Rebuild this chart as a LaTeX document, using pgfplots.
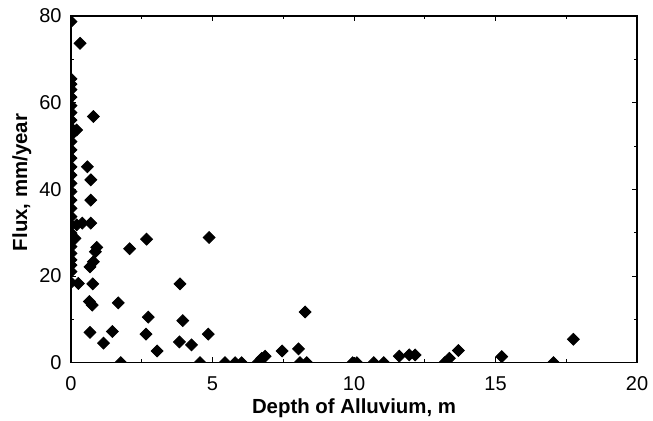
\documentclass[border=0pt]{standalone}
\usepackage{pgfplots}
\pgfplotsset{compat=1.18}
\usepackage{fontspec}
\setmainfont{Liberation Sans}

% Flux against depth of alluvium (x in m, y in mm/year)
\pgfplotstableread{
x y
0 78.7
0 65.5
0 64.3
0 63.0
0 61.3
0 59.3
0 57.7
0 56.0
0 54.2
0 52.5
0 51.0
0 49.1
0 47.2
0 45.2
0 43.3
0 41.4
0 39.5
0 37.5
0 35.6
0 33.7
0 31.8
0 29.9
0 27.9
0 26.8
0 25.2
0 23.7
0 22.5
0 21.0
0 18.5
0.32 73.7
0.79 56.8
0.20 53.7
0.58 45.2
0.70 42.2
0.70 37.5
0.20 31.8
0.40 32.2
0.70 32.2
0.14 28.7
0.91 26.6
0.86 25.6
0.79 23.3
0.67 22.1
0.26 18.3
0.77 18.2
0.65 14.1
0.75 13.3
0.67 7.0
1.15 4.5
1.46 7.2
1.67 13.8
1.76 0
2.07 26.3
2.67 28.5
2.73 10.5
2.65 6.6
3.04 2.7
3.85 18.2
3.95 9.7
3.83 4.8
4.26 4.1
4.56 0
4.88 28.9
4.85 6.6
5.44 0
5.80 0
6.03 0
6.60 0
6.74 1.0
6.86 1.5
7.46 2.7
8.04 3.2
8.09 0
8.33 0
8.27 11.7
9.95 0
10.10 0
10.70 0
11.05 0
11.60 1.5
11.95 1.8
12.16 1.8
13.20 0
13.37 1.0
13.69 2.8
15.22 1.4
17.05 0
17.75 5.4
}\fluxdata

\begin{document}
\begin{tikzpicture}
\path[use as bounding box] (0,0) rectangle (326.5pt,210.5pt);
\clip (0,0) rectangle (326.5pt,210.5pt);
\begin{axis}[
  at={(35.5pt,29.15pt)}, anchor=south west,
  scale only axis,
  width=283pt, height=173.35pt,
  xmin=0, xmax=20, ymin=0, ymax=80,
  xtick={0,5,10,15,20},
  ytick={0,20,40,60,80},
  minor tick num=1,
  tick align=inside,
  major tick length=2.6pt,
  minor tick length=1.6pt,
  axis line style={line width=0.7pt},
  every tick/.style={black, line width=0.5pt},
  /pgf/number format/assume math mode=true,
  tick label style={font=\fontsize{10}{12}\selectfont},
  xticklabel style={yshift=-3.6pt},
  yticklabel style={xshift=-1.2pt},
  xlabel={Depth of Alluvium, m},
  ylabel={Flux, mm/year},
  xlabel style={font=\bfseries\fontsize{10.2}{12}\selectfont,
    at={(axis description cs:0.5,-0.148)}, anchor=base, inner sep=0pt},
  ylabel style={font=\bfseries\fontsize{10.2}{12}\selectfont,
    at={(axis description cs:-0.1042,0.52)}, anchor=north, inner sep=0pt, rotate=0},
  clip marker paths=true,
]
\addplot[only marks, mark=square*, mark size=2.1pt,
  mark options={rotate=45, fill=black, draw=black}]
  table[x=x, y=y] {\fluxdata};
\node[anchor=base, inner sep=0pt, font=\bfseries\fontsize{10}{12}\selectfont]
  at (axis description cs:0.472,1) [yshift=5.35pt] {1988-1996};
\end{axis}
\end{tikzpicture}
\end{document}
